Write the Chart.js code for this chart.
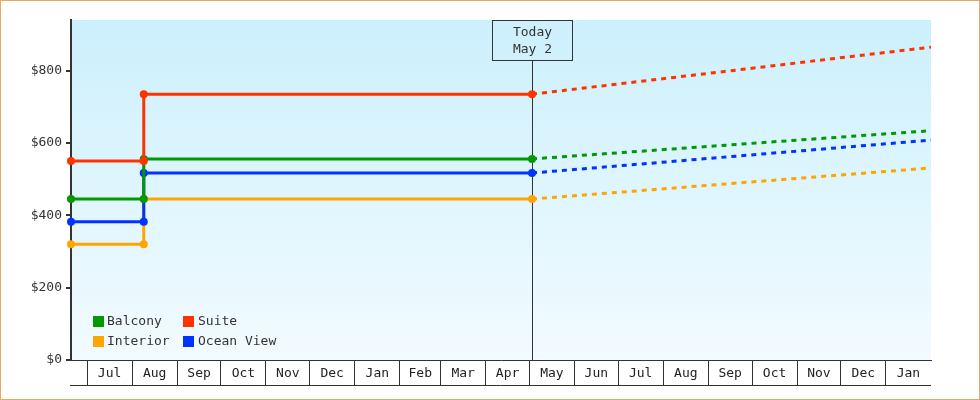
<!DOCTYPE html>
<html><head><meta charset="utf-8">
<script src="https://cdn.jsdelivr.net/npm/chart.js@4.4.0/dist/chart.umd.min.js"></script>
<style>html,body{margin:0;padding:0;background:#fff;}canvas{display:block;}</style>
</head><body>
<canvas id="c" width="980" height="400"></canvas>
<script>
// ---- data ----
const seriesNames = ['Balcony', 'Suite', 'Interior', 'Ocean View'];
const seriesColors = ['#009900', '#ff3300', '#ffa500', '#0033ff'];
const stepDates = ['2022-06-20', '2022-08-09', '2022-08-09', '2023-05-02T20:00'];
const balconyPrices = [445, 445, 556, 556];
const suitePrices = [550, 550, 735, 735];
const interiorPrices = [320, 320, 445, 445];
const oceanViewPrices = [382, 382, 517, 517];
const projectionDates = ['2023-05-02T20:00', '2024-02-01'];
const balconyProjection = [556, 634];
const suiteProjection = [735, 865];
const interiorProjection = [445, 531];
const oceanViewProjection = [517, 608];
const monthLabels = ['Jul','Aug','Sep','Oct','Nov','Dec','Jan','Feb','Mar','Apr','May','Jun','Jul','Aug','Sep','Oct','Nov','Dec','Jan'];
const firstLabelYear = 2022, firstLabelMonthIndex = 6; // July 2022
const yTickValues = [0, 200, 400, 600, 800];
const yMin = 0, yMax = 940;
const xStart = '2022-06-20';
const xEnd = '2024-02-01';
const todayDate = '2023-05-02T20:00';
const todayText = ['Today', 'May 2'];

// ---- helpers ----
const FONT = 'DejaVu Sans Mono';
const INK = '#333333';
const toDay = s => Date.parse(s.length > 10 ? s + ':00Z' : s + 'T00:00:00Z') / 86400000;
const xMin = toDay(xStart), xMax = toDay(xEnd);

const xTicks = [];
for (let i = 0; i < monthLabels.length; i++) {
  const b0 = Date.UTC(firstLabelYear, firstLabelMonthIndex + i, 1) / 86400000;
  const b1 = Date.UTC(firstLabelYear, firstLabelMonthIndex + i + 1, 1) / 86400000;
  if (b0 > xMin && b0 < xMax) xTicks.push({ value: b0, b: true, lab: '' });
  const mid = (Math.max(b0, xMin) + Math.min(b1, xMax)) / 2;
  xTicks.push({ value: mid, b: false, lab: monthLabels[i] });
}
xTicks.sort((a, b) => a.value - b.value);

const solidSeries = [balconyPrices, suitePrices, interiorPrices, oceanViewPrices];
const projSeries = [balconyProjection, suiteProjection, interiorProjection, oceanViewProjection];
const drawOrder = [1, 0, 3, 2]; // suite on top, then balcony, ocean view, interior

const datasets = [];
seriesNames.forEach((name, i) => {
  datasets.push({
    label: name,
    data: stepDates.map((d, k) => ({ x: toDay(d), y: solidSeries[i][k] })),
    borderColor: seriesColors[i], backgroundColor: seriesColors[i],
    borderWidth: 3, pointRadius: 4, pointHoverRadius: 4, pointBorderWidth: 0,
    pointBackgroundColor: seriesColors[i], pointBorderColor: seriesColors[i],
    tension: 0, fill: false, clip: false, order: drawOrder[i]
  });
});
seriesNames.forEach((name, i) => {
  datasets.push({
    label: name + ' (projected)',
    data: projectionDates.map((d, k) => ({ x: toDay(d), y: projSeries[i][k] })),
    borderColor: seriesColors[i], backgroundColor: seriesColors[i],
    borderWidth: 3, borderDash: [5, 5], pointRadius: 0, pointHoverRadius: 0,
    tension: 0, fill: false, clip: false, order: drawOrder[i] + 4
  });
});

const framePlugin = {
  id: 'frame',
  beforeDraw(chart) {
    const { ctx, chartArea: a } = chart;
    ctx.save();
    ctx.fillStyle = '#ffffff';
    ctx.fillRect(0, 0, chart.width, chart.height);
    const g = ctx.createLinearGradient(0, a.top, 0, a.bottom);
    g.addColorStop(0, '#ccf0fc');
    g.addColorStop(1, '#f2fbff');
    ctx.fillStyle = g;
    ctx.fillRect(a.left, a.top, a.right - a.left, a.bottom - a.top);
    ctx.strokeStyle = '#e8a862';
    ctx.lineWidth = 1;
    ctx.strokeRect(0.5, 0.5, chart.width - 1, chart.height - 1);
    ctx.restore();
  },
  beforeDatasetsDraw(chart) {
    const { ctx, chartArea: a, scales } = chart;
    const x = Math.round(scales.x.getPixelForValue(toDay(todayDate))) + 0.5;
    ctx.save();
    ctx.strokeStyle = INK;
    ctx.lineWidth = 1;
    // today line
    ctx.beginPath();
    ctx.moveTo(x, a.top + 40);
    ctx.lineTo(x, a.bottom);
    ctx.stroke();
    // today box
    ctx.strokeRect(x - 40, a.top + 0.5, 80, 40);
    ctx.fillStyle = INK;
    ctx.font = '13px "' + FONT + '"';
    ctx.textAlign = 'center';
    ctx.textBaseline = 'middle';
    ctx.fillText(todayText[0], x, a.top + 13);
    ctx.fillText(todayText[1], x, a.top + 30);
    // bottom line of the month cells
    ctx.beginPath();
    ctx.moveTo(a.left - 1, a.bottom + 25.5);
    ctx.lineTo(a.right, a.bottom + 25.5);
    ctx.stroke();
    ctx.restore();
  },
  afterDatasetsDraw(chart) {
    const { ctx, chartArea: a } = chart;
    ctx.save();
    ctx.font = '13px "' + FONT + '"';
    ctx.textBaseline = 'middle';
    ctx.textAlign = 'left';
    const colX = [a.left + 22, a.left + 112];
    const txtX = [a.left + 36, a.left + 127];
    const rowY = [a.bottom - 44, a.bottom - 24];
    seriesNames.forEach((name, i) => {
      const c = i % 2, r = Math.floor(i / 2);
      const ds = chart.data.datasets[i];
      ctx.fillStyle = ds.borderColor;
      ctx.fillRect(colX[c], rowY[r], 11, 11);
      ctx.fillStyle = INK;
      ctx.fillText(ds.label, txtX[c], rowY[r] + 6);
    });
    ctx.restore();
  }
};

new Chart(document.getElementById('c'), {
  type: 'line',
  data: { datasets },
  options: {
    responsive: false, animation: false, devicePixelRatio: 1, events: [],
    layout: { padding: { top: 20, right: 49, left: 0, bottom: 0 } },
    plugins: { legend: { display: false }, tooltip: { enabled: false } },
    scales: {
      x: {
        type: 'linear', min: xMin, max: xMax, bounds: 'data',
        afterBuildTicks: s => { s.ticks = xTicks.map(t => ({ value: t.value, b: t.b, lab: t.lab })); },
        afterFit: s => { s.height = 40; },
        border: { display: true, color: INK, width: 1 },
        grid: {
          drawOnChartArea: false, drawTicks: true, tickLength: 25, lineWidth: 1,
          color: c => (c.tick && c.tick.b) ? INK : 'rgba(0,0,0,0)'
        },
        ticks: {
          autoSkip: false, maxRotation: 0, minRotation: 0, padding: -19,
          color: '#222', font: { family: FONT, size: 13 },
          callback: (v, i, ticks) => ticks[i].lab || ''
        }
      },
      y: {
        type: 'linear', min: yMin, max: yMax, bounds: 'data',
        afterBuildTicks: s => { s.ticks = yTickValues.map(v => ({ value: v })); },
        afterFit: s => { s.width = 71; },
        border: { display: true, color: INK, width: 2 },
        grid: { drawOnChartArea: false, drawTicks: true, tickLength: 5, lineWidth: 2, color: INK },
        ticks: { padding: 4, color: '#333', font: { family: FONT, size: 13 }, callback: v => '$' + v }
      }
    }
  },
  plugins: [framePlugin]
});
</script>
</body></html>
